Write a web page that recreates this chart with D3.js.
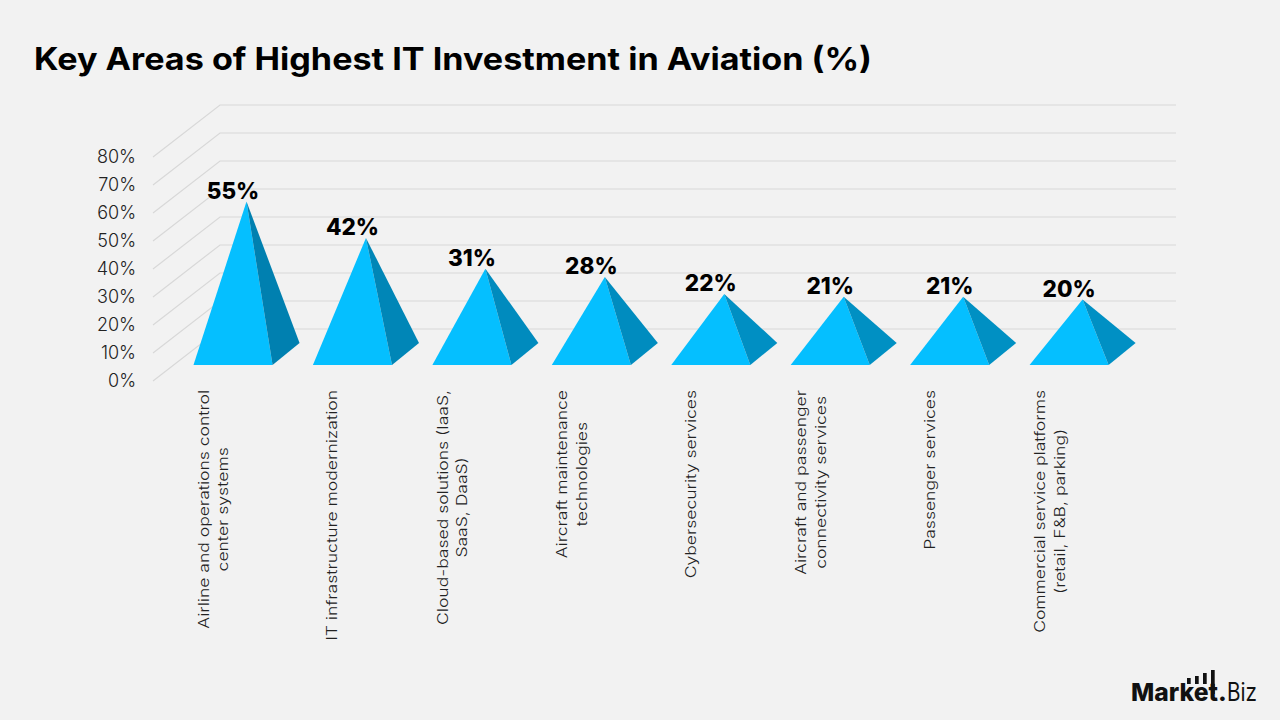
<!DOCTYPE html>
<html>
<head>
<meta charset="utf-8">
<script src="https://cdn.jsdelivr.net/npm/d3@7"></script>
<style>
html,body{margin:0;padding:0;background:#f2f2f2;}
svg{display:block;}
text{font-family:Inter,"Open Sans",sans-serif;}
</style>
</head>
<body>
<svg id="chart" width="1280" height="720"></svg>
<script>
const categories = [
  ["Airline and operations control","center systems"],
  ["IT infrastructure modernization"],
  ["Cloud-based solutions (IaaS,","SaaS, DaaS)"],
  ["Aircraft maintenance","technologies"],
  ["Cybersecurity services"],
  ["Aircraft and passenger","connectivity services"],
  ["Passenger services"],
  ["Commercial service platforms","(retail, F&B, parking)"]
];
const shares = [55,42,31,28,22,21,21,20];
const axisTicks = [0,10,20,30,40,50,60,70,80];
const titleText = "Key Areas of Highest IT Investment in Aviation (%)";

const svg = d3.select("#chart");

// Back wall of the chart; the floor comes toward the viewer by (depthX, depthY).
const y = d3.scaleLinear().domain([0,80]).range([329,105]);
const x = d3.scaleBand().domain(d3.range(categories.length)).range([173.3,1128.8]).paddingInner(0.338).paddingOuter(0.169);
const depthX = -67, depthY = 52;
const wallLeft = 220, wallRight = 1176;

svg.append("text").attr("x",34).attr("y",69.5)
  .attr("font-size",31).attr("font-weight",700).attr("fill","#000")
  .attr("textLength",838).attr("lengthAdjust","spacingAndGlyphs").text(titleText);

const grid = svg.append("g").attr("fill","none").attr("stroke","#d8d8d8").attr("stroke-width",1.2);
grid.selectAll("path").data(axisTicks).join("path")
  .attr("d",t=>{
    const p=d3.path();
    p.moveTo(wallLeft+depthX,y(t)+depthY);
    p.lineTo(wallLeft,y(t));
    p.lineTo(wallRight,y(t));
    return p.toString();
  });

svg.append("g").selectAll("text").data(axisTicks).join("text")
  .attr("x",136).attr("y",t=>y(t)+depthY+6)
  .attr("text-anchor","end").attr("font-size",18).attr("font-weight",300).attr("fill","#222")
  .text(t=>t+"%");

// Each pyramid stands on the floor, its apex at the value measured on the mid-depth plane.
const floorFront = 365, sideDx = 27, sideDy = -22, apexLift = 26.5;
const pyramids = svg.append("g").selectAll("g").data(shares).join("g");
const left = (d,i)=>x(i);
const right = (d,i)=>x(i)+x.bandwidth();
const apexX = (d,i)=>x(i)+(x.bandwidth()+sideDx)/2;
const apexY = d=>y(d)+apexLift;

pyramids.append("path").attr("fill","#05bfff")
  .attr("d",(d,i)=>`M${left(d,i)},${floorFront}L${right(d,i)},${floorFront}L${apexX(d,i)},${apexY(d)}Z`);
pyramids.append("path").attr("fill",d=>d3.interpolateRgb("#0090c4","#0080b0")((d-20)/35))
  .attr("d",(d,i)=>`M${right(d,i)},${floorFront}L${right(d,i)+sideDx},${floorFront+sideDy}L${apexX(d,i)},${apexY(d)}Z`);
pyramids.append("text")
  .attr("x",(d,i)=>apexX(d,i)-13.5).attr("y",d=>apexY(d)-3)
  .attr("text-anchor","middle").attr("font-size",22.5).attr("font-weight",800).attr("fill","#000")
  .text(d=>d+"%");

// Category names read bottom to top, hanging from a common line under the floor.
// The glyphs are widened along the reading direction to keep the face's broad proportions.
const labelSize = 14.5, labelStretch = 1.21;
const labels = svg.append("g").selectAll("g").data(categories).join("g")
  .attr("transform",(d,i)=>`translate(${x(i)+(d.length>1?15.5:24.5)},390) rotate(-90) scale(${labelStretch},1)`);
labels.each(function(lines){
  const g=d3.select(this);
  const first=g.append("text").attr("font-size",labelSize).attr("font-weight",300).attr("fill","#222")
    .attr("text-anchor","end").text(lines[0]);
  if(lines[1]){
    const w=first.node().getComputedTextLength();
    g.append("text").attr("font-size",labelSize).attr("font-weight",300).attr("fill","#222")
      .attr("x",-w/2).attr("y",19.5).attr("text-anchor","middle").text(lines[1]);
  }
});

// Brand mark, lower right.
const logo = svg.append("g").attr("fill","#111");
logo.append("text").attr("x",1131).attr("y",701).attr("font-size",25).attr("font-weight",800)
  .attr("textLength",87).attr("lengthAdjust","spacingAndGlyphs").text("Market");
logo.append("text").attr("x",1218).attr("y",701).attr("font-size",25).attr("font-weight",800).text(".");
logo.append("text").attr("x",1227).attr("y",701).attr("font-size",25).attr("font-weight",400)
  .attr("textLength",30).attr("lengthAdjust","spacingAndGlyphs").text("Biz");
const logoBars=[6,8,11,24];
logo.selectAll("rect").data(logoBars).join("rect")
  .attr("x",(d,i)=>1187+i*8).attr("y",d=>(d>20?694:684)-d).attr("width",3.7).attr("height",d=>d);
</script>
</body>
</html>
